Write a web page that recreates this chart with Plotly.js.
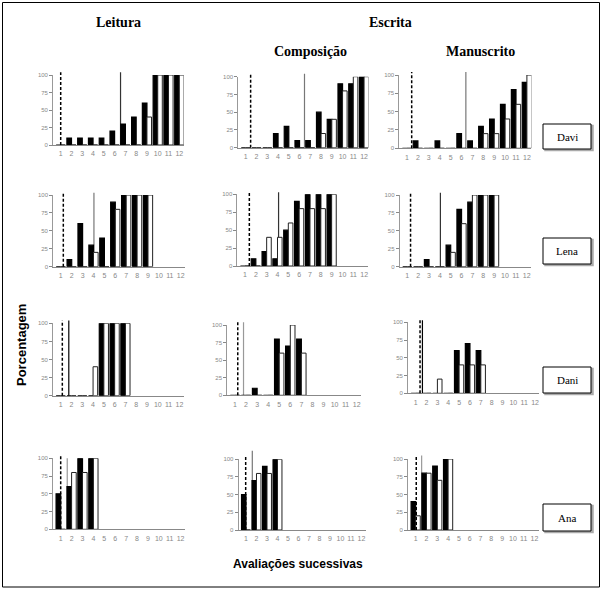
<!DOCTYPE html>
<html><head><meta charset="utf-8">
<script src="https://cdn.plot.ly/plotly-3.0.1.min.js"></script>
<style>html,body{margin:0;padding:0;background:#fff}#chart{width:602px;height:589px}</style>
</head><body><div id="chart"></div>
<script>
// ---- data ----
const sessions = [1,2,3,4,5,6,7,8,9,10,11,12];
const sessionLabels = ['1','2','3','4','5','6','7','8','9','10','11','12'];
const yTicks = [0,25,50,75,100];
const yTickLabels = ['0','25','50','75','100'];
const children = ['Davi','Lena','Dani','Ana'];
const tasks = ['Leitura','Composição','Manuscrito'];

// black bars (first measure) and white bars (second measure), % per session
const daviLeituraB = [0,10,10,10,10,20,30,40,60,100,100,100];
const daviLeituraW = [0,0,0,0,0,0,0,0,40,100,100,100];
const daviComposicaoB = [0,0,0,20,30,10,10,50,40,90,90,100];
const daviComposicaoW = [0,0,0,0,0,0,0,20,40,80,100,100];
const daviManuscritoB = [0,10,0,10,0,20,10,30,40,60,80,90];
const daviManuscritoW = [0,0,0,0,0,0,0,20,20,40,60,100];

const lenaLeituraB = [0,10,60,30,40,90,100,100,100,null,null,null];
const lenaLeituraW = [0,0,0,20,0,80,100,100,100,null,null,null];
const lenaComposicaoB = [0,10,20,10,50,90,100,100,100,null,null,null];
const lenaComposicaoW = [0,0,40,40,60,80,80,80,100,null,null,null];
const lenaManuscritoB = [0,0,10,0,30,80,90,100,100,null,null,null];
const lenaManuscritoW = [0,0,0,0,20,60,100,100,100,null,null,null];

const daniLeituraB = [0,0,0,0,100,100,100,null,null,null,null,null];
const daniLeituraW = [0,0,0,40,100,100,100,null,null,null,null,null];
const daniComposicaoB = [0,0,10,0,80,70,80,null,null,null,null,null];
const daniComposicaoW = [0,0,0,0,60,100,60,null,null,null,null,null];
const daniManuscritoB = [0,0,0,0,60,70,60,null,null,null,null,null];
const daniManuscritoW = [0,0,20,0,40,40,40,null,null,null,null,null];

const anaLeituraB = [50,60,100,100,null,null,null,null,null,null,null,null];
const anaLeituraW = [0,80,80,100,null,null,null,null,null,null,null,null];
const anaComposicaoB = [50,70,90,100,null,null,null,null,null,null,null,null];
const anaComposicaoW = [0,80,80,100,null,null,null,null,null,null,null,null];
const anaManuscritoB = [40,80,90,100,null,null,null,null,null,null,null,null];
const anaManuscritoW = [20,80,70,100,null,null,null,null,null,null,null,null];

// phase-change markers (session position) per panel, row-major
const dashedAt = [1.0,1.45,1.43, 1.23,1.4,1.3, 1.15,1.25,1.4, 1.0,0.97,1.05];
const solidAt  = [6.55,6.46,6.4, 4.04,4.1,4.05, 1.75,1.77,1.62, 1.6,1.6,1.55];

const blackSeries = [daviLeituraB,daviComposicaoB,daviManuscritoB,lenaLeituraB,lenaComposicaoB,lenaManuscritoB,
  daniLeituraB,daniComposicaoB,daniManuscritoB,anaLeituraB,anaComposicaoB,anaManuscritoB];
const whiteSeries = [daviLeituraW,daviComposicaoW,daviManuscritoW,lenaLeituraW,lenaComposicaoW,lenaManuscritoW,
  daniLeituraW,daniComposicaoW,daniManuscritoW,anaLeituraW,anaComposicaoW,anaManuscritoW];

// ---- geometry (pixels): first-category centre, category spacing, y of 100, y of 0 ----
const W = 602, H = 589;
const geom = [
  [60.7,10.78,75,145],[245.8,10.75,76.7,147.7],[407,10.9,75,148.3],
  [60.8,10.9,195,266.7],[245,10.83,194.3,266],[407.3,10.85,195,266.7],
  [60.7,10.79,323.3,395.7],[235,11.06,325,395.3],[415.7,10.85,322.3,393.3],
  [60.7,10.9,458.3,529.3],[246,10.5,459.3,530],[415.7,10.8,459,530]
];
const solidTop = [104,104,104, 103,103,103, 104,104,103, 100,112,105];
const solidColor = ['#333','#777','#777','#777','#333','#333','#000','#999','#000','#999','#777','#999'];
const fx = p => p / W, fy = p => 1 - p / H;
const XR = [0.3, 12.4];

const traces = [], layout = {
  width: W, height: H, margin: {l:0,r:0,t:0,b:0},
  paper_bgcolor:'#fff', plot_bgcolor:'rgba(0,0,0,0)',
  showlegend:false, barmode:'group', bargap:0.15, bargroupgap:0,
  font:{family:'Arial, Liberation Sans, sans-serif'},
  shapes:[], annotations:[]
};

geom.forEach((g, i) => {
  const n = i + 1;
  const [c1, s, y100, y0] = g;
  const L = c1 + (XR[0]-1)*s, R = c1 + (XR[1]-1)*s;
  const xa = 'xaxis' + (n===1?'':n), ya = 'yaxis' + (n===1?'':n);
  const xid = 'x' + (n===1?'':n), yid = 'y' + (n===1?'':n);
  layout[xa] = {domain:[fx(L), fx(R)], range:XR, anchor:yid, showgrid:false, zeroline:false,
    tickmode:'array', tickvals:sessions, ticktext:sessionLabels, ticks:'outside', ticklen:2, tickcolor:'rgba(0,0,0,0)',
    showline:true, linecolor:'#888', linewidth:1, tickfont:{size:7, color:'#888'}, fixedrange:true};
  layout[ya] = {domain:[fy(y0), fy(y100)], range:[0,100], anchor:xid, showgrid:false, zeroline:false,
    tickmode:'array', tickvals:yTicks, ticktext:yTickLabels, ticks:'outside', ticklen:3, tickcolor:'#888',
    showline:true, linecolor:'#999', linewidth:1, tickfont:{size:6, color:'#888'}, fixedrange:true};
  traces.push({type:'bar', x:sessions, y:blackSeries[i], xaxis:xid, yaxis:yid,
    marker:{color:'#000', line:{color:'#000', width:1.2}}, hoverinfo:'skip'});
  traces.push({type:'bar', x:sessions, y:whiteSeries[i], xaxis:xid, yaxis:yid,
    marker:{color:'#fff', line:{color:'#222', width:1}}, hoverinfo:'skip'});
  const py = v => fy(y0 - (y0 - y100) * v / 100);
  layout.shapes.push({type:'line', xref:xid, yref:'paper', x0:dashedAt[i], x1:dashedAt[i],
    y0:py(0), y1:py(104), line:{color:'#000', width:1.5, dash:'3px,2px'}});
  layout.shapes.push({type:'line', xref:xid, yref:'paper', x0:solidAt[i], x1:solidAt[i], layer:'below',
    y0:py(0), y1:py(solidTop[i]), line:{color:solidColor[i], width:1.2}});
});

// name boxes
const boxes = [[124,149],[238,264],[367,393],[504,531]];
boxes.forEach((b, k) => {
  layout.shapes.push({type:'rect', xref:'paper', yref:'paper', x0:fx(545), x1:fx(593), y0:fy(b[1]+1.5), y1:fy(b[0]+1.5),
    line:{color:'#aaa', width:1.5}, fillcolor:'#aaa'});
  layout.shapes.push({type:'rect', xref:'paper', yref:'paper', x0:fx(543), x1:fx(591), y0:fy(b[1]), y1:fy(b[0]),
    line:{color:'#000', width:1}, fillcolor:'#fff'});
  layout.annotations.push({xref:'paper', yref:'paper', x:fx(567), y:fy((b[0]+b[1])/2), text:children[k],
    xanchor:'center', yanchor:'middle', showarrow:false,
    font:{family:'Liberation Serif, Times New Roman, serif', size:11, color:'#000'}});
});
// outer frame
layout.shapes.push({type:'rect', xref:'paper', yref:'paper', x0:fx(2.5), x1:fx(599.5), y0:fy(587), y1:fy(2.5),
  line:{color:'#000', width:1}});

const serifB = {family:'Liberation Serif, Times New Roman, serif', size:14, color:'#000'};
const ann = (x, y, t, f, extra) => layout.annotations.push(Object.assign({xref:'paper', yref:'paper', x:fx(x), y:fy(y),
  text:t, xanchor:'center', yanchor:'middle', showarrow:false, font:f}, extra||{}));
ann(118, 22, '<b>' + tasks[0] + '</b>', serifB);
ann(390, 22, '<b>Escrita</b>', serifB);
ann(310, 52, '<b>' + tasks[1] + '</b>', serifB);
ann(480, 52, '<b>' + tasks[2] + '</b>', serifB);
ann(21, 345, '<b>Porcentagem</b>', {family:'Liberation Sans, Arial, sans-serif', size:13, color:'#000'}, {textangle:-90});
ann(298, 564, '<b>Avaliações sucessivas</b>', {family:'Liberation Sans, Arial, sans-serif', size:12, color:'#000'});

Plotly.newPlot('chart', traces, layout, {staticPlot:true, displayModeBar:false});
</script></body></html>
